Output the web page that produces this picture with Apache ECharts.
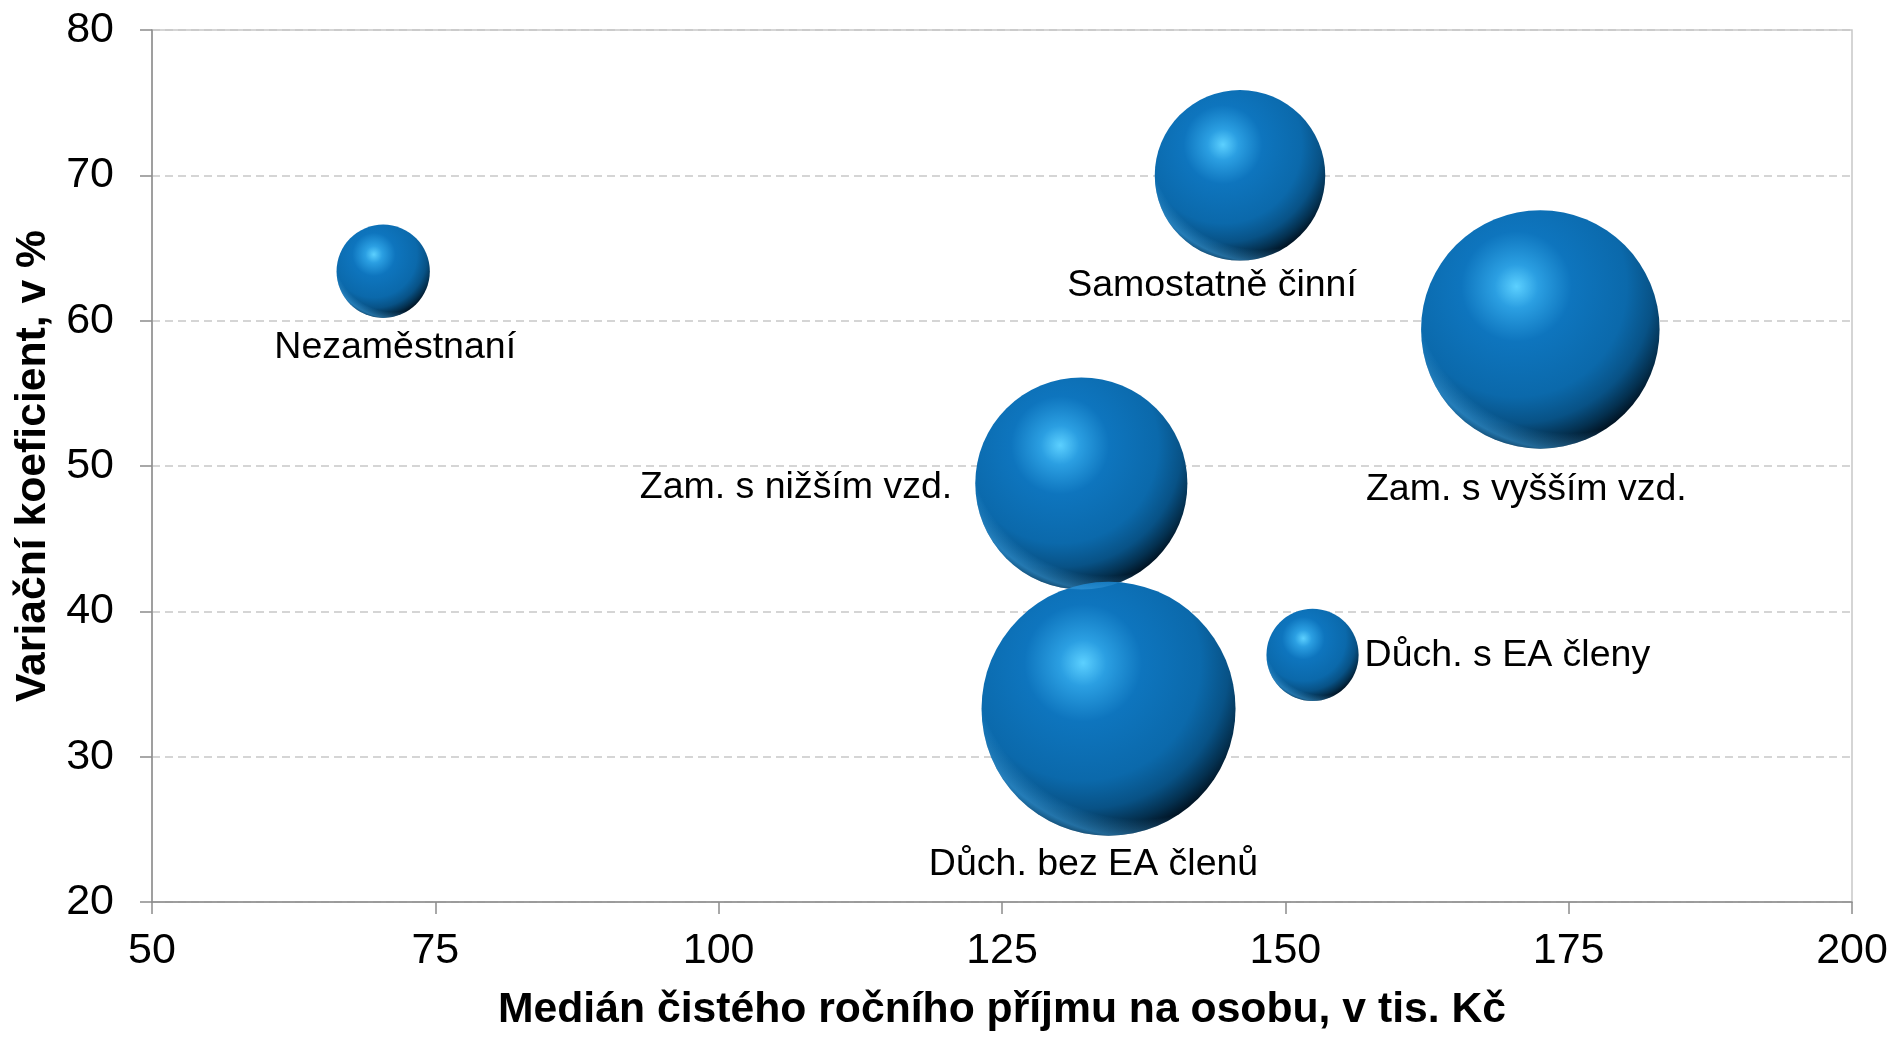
<!DOCTYPE html>
<html>
<head>
<meta charset="utf-8">
<script src="https://cdn.jsdelivr.net/npm/echarts@6/dist/echarts.min.js"></script>
<style>
html,body{margin:0;padding:0;background:#fff;overflow:hidden;}
#chart{width:1892px;height:1037px;}
</style>
</head>
<body>
<div id="chart"></div>
<script>
// ---- data ----
const groups = ['Nezaměstnaní', 'Samostatně činní', 'Zam. s vyšším vzd.', 'Zam. s nižším vzd.', 'Důch. s EA členy', 'Důch. bez EA členů'];
const medianIncome = [70.4, 146.0, 172.5, 132.0, 152.4, 134.4];      // x, tis. Kč
const variationCoef = [63.4, 70.0, 59.4, 48.8, 37.0, 33.3];          // y, %
const groupShare = [4.1, 13.7, 26.8, 21.2, 4.0, 30.4];               // bubble size
const xTicks = { min: 50, max: 200, interval: 25 };
const yTicks = { min: 20, max: 80, interval: 10 };

// ---- label placement (style only) ----
const labelPlacement = [
  { position: 'inside', offset: [12, 76] },
  { position: 'inside', offset: [-28, 110] },
  { position: 'inside', offset: [-14, 160] },
  { position: 'left', distance: 23, offset: [0, 4] },
  { position: 'right', distance: 6, offset: [0, 1] },
  { position: 'inside', offset: [-15, 156] }
];

const FONT = "'Liberation Sans', Arial, sans-serif";
const SIZE_SCALE = 46.07;

const sphere = {
  type: 'radial', x: 0.4, y: 0.32, r: 0.7,
  colorStops: [
    { offset: 0, color: '#5cd0ff' },
    { offset: 0.13, color: '#2b9fe2' },
    { offset: 0.33, color: '#0e75be' },
    { offset: 0.66, color: '#0b69ab' },
    { offset: 0.82, color: '#085286' },
    { offset: 0.93, color: '#04304f' },
    { offset: 1, color: '#011526' }
  ]
};
const rim = {
  type: 'radial', x: 0.62, y: 0.28, r: 0.78,
  colorStops: [
    { offset: 0, color: 'rgba(60,160,225,0)' },
    { offset: 0.84, color: 'rgba(60,160,225,0)' },
    { offset: 0.93, color: 'rgba(60,160,225,0.55)' },
    { offset: 1, color: 'rgba(60,160,225,0)' }
  ]
};

const data = groups.map((g, i) => ({
  name: g,
  value: [medianIncome[i], variationCoef[i], groupShare[i]],
  label: Object.assign({ show: true }, labelPlacement[i])
}));
const rimData = groups.map((g, i) => [medianIncome[i], variationCoef[i], groupShare[i]]);

const chart = echarts.init(document.getElementById('chart'), null, { renderer: 'canvas' });
chart.setOption({
  animation: false,
  backgroundColor: '#ffffff',
  grid: {
    left: 152, right: 40, top: 30, bottom: 131,
    show: true, borderColor: '#c8c8c8', borderWidth: 1.5, backgroundColor: 'transparent'
  },
  xAxis: {
    type: 'value', min: xTicks.min, max: xTicks.max, interval: xTicks.interval,
    name: 'Medián čistého ročního příjmu na osobu, v tis. Kč',
    nameLocation: 'middle', nameGap: 86,
    nameTextStyle: { fontFamily: FONT, fontSize: 42.7, fontWeight: 'bold', color: '#000', lineHeight: 44 },
    axisLine: { show: true, lineStyle: { color: '#8c8c8c', width: 1.5 } },
    axisTick: { show: true, length: 12, lineStyle: { color: '#8c8c8c', width: 1.5 } },
    axisLabel: { fontFamily: FONT, fontSize: 43, color: '#000', margin: 28 },
    splitLine: { show: false }
  },
  yAxis: {
    type: 'value', min: yTicks.min, max: yTicks.max, interval: yTicks.interval,
    name: 'Variační koeficient, v %',
    nameLocation: 'middle', nameGap: 97,
    nameTextStyle: { fontFamily: FONT, fontSize: 42.7, fontWeight: 'bold', color: '#000', lineHeight: 44 },
    axisLine: { show: true, lineStyle: { color: '#8c8c8c', width: 1.5 } },
    axisTick: { show: true, length: 12, lineStyle: { color: '#8c8c8c', width: 1.5 } },
    axisLabel: { fontFamily: FONT, fontSize: 43, color: '#000', margin: 38 },
    splitLine: { show: true, lineStyle: { color: '#c8c8c8', width: 1.5, type: [8, 5] } }
  },
  series: [{
    type: 'scatter',
    data: data,
    symbol: 'circle',
    symbolSize: function (val) { return Math.sqrt(val[2]) * SIZE_SCALE; },
    itemStyle: { color: sphere, opacity: 1 },
    label: {
      show: true,
      formatter: '{b}',
      fontFamily: FONT, fontSize: 37.5, color: '#000'
    },
    emphasis: { disabled: true }
  }, {
    type: 'scatter',
    data: rimData,
    symbol: 'circle',
    silent: true,
    symbolSize: function (val) { return Math.sqrt(val[2]) * SIZE_SCALE; },
    itemStyle: { color: rim, opacity: 1 },
    emphasis: { disabled: true }
  }]
});
</script>
</body>
</html>
